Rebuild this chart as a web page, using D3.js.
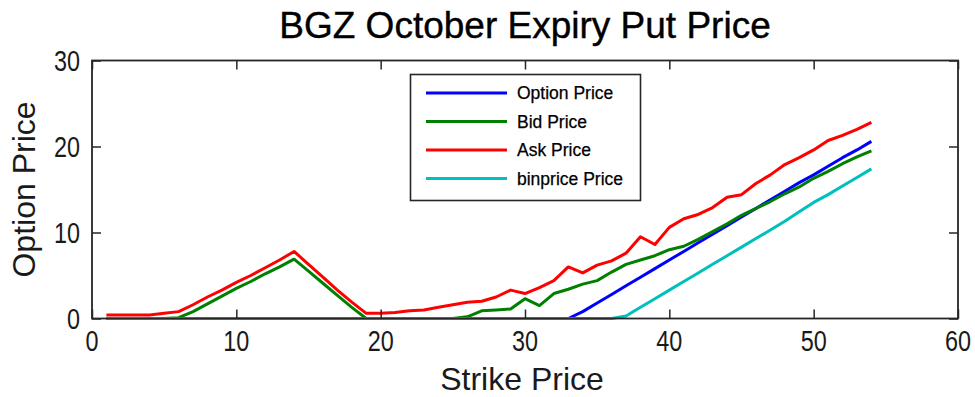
<!DOCTYPE html>
<html>
<head>
<meta charset="utf-8">
<script src="https://cdn.jsdelivr.net/npm/d3@7"></script>
<style>
  html, body { margin: 0; padding: 0; background: #fff; }
  svg { display: block; }
  .tick-label { font-family: "Liberation Sans", Arial, sans-serif; font-size: 30px; fill: #1a1a1a; }
  .axis-title { font-family: "Liberation Sans", Arial, sans-serif; font-size: 32px; fill: #1a1a1a; }
  .chart-title { font-family: "Liberation Sans", Arial, sans-serif; font-size: 37px; fill: #000; stroke: #000; stroke-width: 0.4px; }
  .legend-text { font-family: "Liberation Sans", Arial, sans-serif; font-size: 17.5px; fill: #000; stroke: #000; stroke-width: 0.25px; }
</style>
</head>
<body>
<svg id="chart" width="975" height="397"></svg>
<script>
// Strike prices and the four put price series
const strikes = d3.range(1, 55);

const optionPrice = [
  0, 0, 0, 0, 0, 0, 0, 0, 0, 0,
  0, 0, 0, 0, 0, 0, 0, 0, 0, 0,
  0, 0, 0, 0, 0, 0, 0, 0, 0, 0,
  0, 0, 0, 0.8, 1.8, 2.8, 3.8, 4.8, 5.8, 6.8,
  7.8, 8.8, 9.8, 10.8, 11.8, 12.8, 13.8, 14.8, 15.8, 16.7,
  17.7, 18.7, 19.6, 20.6
];

const bidPrice = [
  0, 0, 0, 0, 0, 0.1, 0.8, 1.7, 2.6, 3.5,
  4.3, 5.2, 6.0, 6.9, 5.5, 4.1, 2.7, 1.3, 0, 0,
  0, 0, 0, 0, 0, 0.2, 0.9, 1.0, 1.1, 2.3,
  1.5, 2.9, 3.4, 4.0, 4.4, 5.4, 6.3, 6.8, 7.3, 8.0,
  8.4, 9.2, 10.1, 11.0, 12.0, 12.8, 13.6, 14.5, 15.3, 16.3,
  17.1, 18.0, 18.8, 19.5
];

const askPrice = [
  0.4, 0.4, 0.4, 0.4, 0.6, 0.8, 1.6, 2.5, 3.3, 4.2,
  5.0, 5.9, 6.8, 7.8, 6.3, 4.8, 3.3, 1.9, 0.6, 0.6,
  0.7, 0.9, 1.0, 1.3, 1.6, 1.9, 2.0, 2.5, 3.3, 2.9,
  3.6, 4.4, 6.0, 5.3, 6.2, 6.7, 7.6, 9.5, 8.6, 10.6,
  11.6, 12.1, 12.9, 14.1, 14.4, 15.7, 16.7, 17.9, 18.7, 19.6,
  20.7, 21.3, 22.0, 22.8
];

const binPrice = [
  0, 0, 0, 0, 0, 0, 0, 0, 0, 0,
  0, 0, 0, 0, 0, 0, 0, 0, 0, 0,
  0, 0, 0, 0, 0, 0, 0, 0, 0, 0,
  0, 0, 0, 0, 0, 0, 0.3, 1.3, 2.3, 3.3,
  4.3, 5.3, 6.3, 7.3, 8.3, 9.3, 10.3, 11.3, 12.4, 13.5,
  14.4, 15.4, 16.4, 17.4
];

const seriesNames = ["Option Price", "Bid Price", "Ask Price", "binprice Price"];
const seriesColors = ["#0000ff", "#008000", "#ff0000", "#00bfbf"];
const seriesValues = [optionPrice, bidPrice, askPrice, binPrice];

const xTicks = [0, 10, 20, 30, 40, 50, 60];
const yTicks = [0, 10, 20, 30];

const chartTitle = "BGZ October Expiry Put Price";
const xTitle = "Strike Price";
const yTitle = "Option Price";

// Layout
const plot = { left: 92, right: 958, top: 60.5, bottom: 318.5 };
const narrow = 0.78; // horizontal squeeze for the tick numerals

const svg = d3.select("#chart");

const x = d3.scaleLinear().domain([0, 60]).range([plot.left, plot.right]);
const y = d3.scaleLinear().domain([0, 30]).range([plot.bottom, plot.top]);

// Plot lines
const line = d3.line()
  .x((d, i) => x(strikes[i]))
  .y(d => y(d));

const lineLayer = svg.append("g");
seriesValues.forEach((vals, k) => {
  lineLayer.append("path")
    .datum(vals)
    .attr("d", line)
    .attr("fill", "none")
    .attr("stroke", seriesColors[k])
    .attr("stroke-width", 3)
    .attr("stroke-linejoin", "round");
});

// Box with inward ticks on all four sides
const tickLen = 9;
const axisColor = "#262626";

const bottomAxis = d3.axisBottom(x).tickValues(xTicks).tickSize(-tickLen).tickFormat("");
const topAxis = d3.axisTop(x).tickValues(xTicks).tickSize(-tickLen).tickFormat("");
const leftAxis = d3.axisLeft(y).tickValues(yTicks).tickSize(-tickLen).tickFormat("");
const rightAxis = d3.axisRight(y).tickValues(yTicks).tickSize(-tickLen).tickFormat("");

function styleAxis(g) {
  g.select(".domain").remove();
  g.selectAll(".tick line").attr("stroke", axisColor).attr("stroke-width", 1.5);
}

svg.append("g").attr("transform", `translate(0,${plot.bottom})`).call(bottomAxis).call(styleAxis);
svg.append("g").attr("transform", `translate(0,${plot.top})`).call(topAxis).call(styleAxis);
svg.append("g").attr("transform", `translate(${plot.left},0)`).call(leftAxis).call(styleAxis);
svg.append("g").attr("transform", `translate(${plot.right},0)`).call(rightAxis).call(styleAxis);

svg.append("rect")
  .attr("x", plot.left).attr("y", plot.top)
  .attr("width", plot.right - plot.left).attr("height", plot.bottom - plot.top)
  .attr("fill", "none").attr("stroke", axisColor).attr("stroke-width", 1.8);

// Tick labels (condensed numerals)
svg.append("g").selectAll("text").data(xTicks).join("text")
  .attr("class", "tick-label")
  .attr("transform", d => `translate(${x(d)},351) scale(${narrow},1)`)
  .attr("text-anchor", "middle")
  .text(d => d);

svg.append("g").selectAll("text").data(yTicks).join("text")
  .attr("class", "tick-label")
  .attr("transform", d => `translate(80,${y(d) + 10.8}) scale(${narrow},1)`)
  .attr("text-anchor", "end")
  .text(d => d);

// Titles
svg.append("text")
  .attr("class", "chart-title")
  .attr("x", (plot.left + plot.right) / 2)
  .attr("y", 38)
  .attr("text-anchor", "middle")
  .text(chartTitle);

svg.append("text")
  .attr("class", "axis-title")
  .attr("x", (plot.left + plot.right) / 2 - 3)
  .attr("y", 390)
  .attr("text-anchor", "middle")
  .text(xTitle);

svg.append("text")
  .attr("class", "axis-title")
  .attr("transform", `translate(35,${(plot.top + plot.bottom) / 2}) rotate(-90)`)
  .attr("text-anchor", "middle")
  .text(yTitle);

// Legend
const legend = svg.append("g");
legend.append("rect")
  .attr("x", 410.5).attr("y", 74.5)
  .attr("width", 230).attr("height", 126)
  .attr("fill", "#fff").attr("stroke", axisColor).attr("stroke-width", 1.6);

const rowY = d3.scalePoint().domain(seriesNames).range([93, 178.5]);
seriesNames.forEach((name, k) => {
  legend.append("line")
    .attr("x1", 426).attr("x2", 507)
    .attr("y1", rowY(name)).attr("y2", rowY(name))
    .attr("stroke", seriesColors[k]).attr("stroke-width", 3);
  legend.append("text")
    .attr("class", "legend-text")
    .attr("x", 517)
    .attr("y", rowY(name) + 6)
    .text(name);
});
</script>
</body>
</html>
